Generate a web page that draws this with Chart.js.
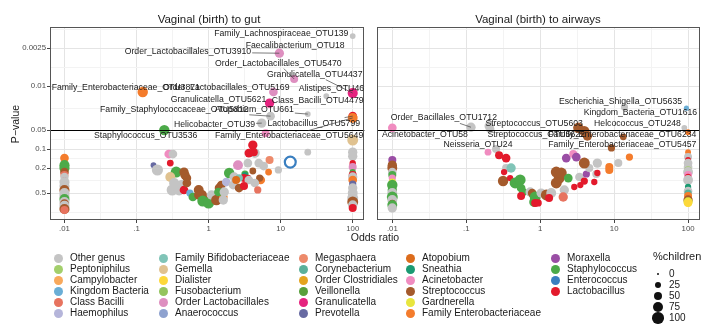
<!DOCTYPE html>
<html>
<head>
<meta charset="utf-8">
<script src="https://cdn.jsdelivr.net/npm/chart.js@4.4.0/dist/chart.umd.min.js"></script>
<style>
  body { margin: 0; background: #fff; font-family: "Liberation Sans", Arial, sans-serif; }
  #wrap { position: relative; width: 728px; height: 334px; overflow: hidden; }
  canvas { position: absolute; top: 0; }
  .txt { position: absolute; color: #1a1a1a; white-space: nowrap; line-height: 1; }
  .dot { position: absolute; border-radius: 50%; }
</style>
</head>
<body>
<div id="wrap">
  <canvas id="gut" width="372" height="240" style="left:0"></canvas>
  <canvas id="air" width="356" height="240" style="left:372px"></canvas>
  <div class="txt" style="left:209px;top:14px;font-size:11.5px;transform:translateX(-50%)">Vaginal (birth) to gut</div>
  <div class="txt" style="left:538px;top:14px;font-size:11.5px;transform:translateX(-50%)">Vaginal (birth) to airways</div>
  <div class="txt" style="left:15px;top:124px;font-size:10.5px;transform:translate(-50%,-50%) rotate(-90deg)">P−value</div>
  <div class="txt" style="left:375px;top:232px;font-size:10.5px;transform:translateX(-50%)">Odds ratio</div>
  <div id="legend"></div>
</div>
<script>
// Géneros (orden de la leyenda) y sus colores
const generos = [
  'Other genus', 'Peptoniphilus', 'Campylobacter', 'Kingdom Bacteria', 'Class Bacilli', 'Haemophilus',
  'Family Bifidobacteriaceae', 'Gemella', 'Dialister', 'Fusobacterium', 'Order Lactobacillales', 'Anaerococcus',
  'Megasphaera', 'Corynebacterium', 'Order Clostridiales', 'Veillonella', 'Granulicatella', 'Prevotella',
  'Atopobium', 'Sneathia', 'Acinetobacter', 'Streptococcus', 'Gardnerella', 'Family Enterobacteriaceae',
  'Moraxella', 'Staphylococcus', 'Enterococcus', 'Lactobacillus'
];
const coloresGenero = [
  '#c4c4c4', '#a3cf6b', '#f8a95c', '#6aaed6', '#e7735f', '#b5b5da',
  '#80c4b7', '#e0c290', '#fdd83a', '#94c45e', '#de8fc0', '#8ea2cf',
  '#ed8a6b', '#5bb09a', '#e4a41f', '#58a03b', '#e5237f', '#676aa2',
  '#dc6c1c', '#1a9a72', '#f08cc0', '#a45a2c', '#e8e63e', '#f47c2c',
  '#9a4ea5', '#4caa49', '#3a7fc0', '#e31a2c'
];

// Ejes
const xBreaks = [0.01, 0.1, 1, 10, 100];
const xBreakLabels = ['.01', '.1', '1', '10', '100'];
const xMinor = [0.0316, 0.316, 3.16, 31.6];
const yBreaks = [0.0025, 0.01, 0.05, 0.1, 0.2, 0.5];
const yBreakLabels = ['0.0025', '0.01', '0.05', '0.1', '0.2', '0.5'];
const yMinor = [0.00125, 0.005, 0.0224, 0.0707, 0.141, 0.316, 1.0];
const corteP = 0.05;
const tamanos = [0, 25, 50, 75, 100]; // %children

// Puntos: [genero, odds ratio, p-value, %children]
const gutRows = [
  ['Family Enterobacteriaceae', 0.01, 0.139, 50],
  ['Staphylococcus', 0.01, 0.18, 75],
  ['Staphylococcus', 0.01, 0.2, 75],
  ['Streptococcus', 0.01, 0.232, 50],
  ['Class Bacilli', 0.01, 0.259, 40],
  ['Other genus', 0.01, 0.278, 45],
  ['Lactobacillus', 0.01, 0.30, 5],
  ['Other genus', 0.01, 0.334, 75],
  ['Other genus', 0.01, 0.387, 75],
  ['Streptococcus', 0.01, 0.447, 75],
  ['Other genus', 0.01, 0.5, 75],
  ['Other genus', 0.01, 0.557, 75],
  ['Staphylococcus', 0.01, 0.621, 75],
  ['Other genus', 0.01, 0.693, 75],
  ['Streptococcus', 0.01, 0.746, 60],
  ['Other genus', 0.01, 0.80, 75],
  ['Streptococcus', 0.01, 0.896, 75],
  ['Class Bacilli', 0.01, 0.93, 40],
  ['Acinetobacter', 0.28, 0.12, 50],
  ['Other genus', 0.32, 0.12, 50],
  ['Prevotella', 0.172, 0.18, 15],
  ['Other genus', 0.195, 0.215, 95],
  ['Lactobacillus', 0.294, 0.167, 25],
  ['Staphylococcus', 0.355, 0.232, 90],
  ['Streptococcus', 0.456, 0.232, 60],
  ['Streptococcus', 0.47, 0.259, 60],
  ['Streptococcus', 0.50, 0.289, 50],
  ['Gemella', 0.294, 0.278, 70],
  ['Other genus', 0.333, 0.346, 75],
  ['Other genus', 0.428, 0.373, 80],
  ['Other genus', 0.313, 0.447, 95],
  ['Other genus', 0.39, 0.447, 90],
  ['Lactobacillus', 0.456, 0.447, 50],
  ['Streptococcus', 0.50, 0.346, 50],
  ['Kingdom Bacteria', 0.551, 0.5, 30],
  ['Staphylococcus', 0.605, 0.578, 50],
  ['Streptococcus', 0.73, 0.447, 70],
  ['Streptococcus', 0.73, 0.537, 60],
  ['Streptococcus', 0.803, 0.537, 80],
  ['Streptococcus', 0.855, 0.644, 70],
  ['Staphylococcus', 0.83, 0.669, 90],
  ['Staphylococcus', 1.0, 0.719, 95],
  ['Other genus', 1.1, 0.537, 60],
  ['Streptococcus', 1.286, 0.644, 85],
  ['Family Enterobacteriaceae', 1.60, 0.578, 50],
  ['Other genus', 1.60, 0.644, 60],
  ['Streptococcus', 1.41, 0.416, 60],
  ['Streptococcus', 1.50, 0.373, 50],
  ['Staphylococcus', 1.37, 0.481, 50],
  ['Other genus', 1.65, 0.481, 60],
  ['Haemophilus', 1.76, 0.334, 50],
  ['Staphylococcus', 1.93, 0.24, 80],
  ['Other genus', 2.26, 0.278, 60],
  ['Other genus', 2.19, 0.373, 50],
  ['Streptococcus', 2.65, 0.416, 50],
  ['Order Lactobacillales', 2.56, 0.18, 70],
  ['Other genus', 3.51, 0.167, 50],
  ['Other genus', 4.97, 0.167, 50],
  ['Megasphaera', 7.02, 0.149, 40],
  ['Other genus', 5.81, 0.186, 50],
  ['Other genus', 9.3, 0.215, 30],
  ['Streptococcus', 4.11, 0.223, 25],
  ['Family Enterobacteriaceae', 6.80, 0.232, 25],
  ['Staphylococcus', 3.2, 0.249, 30],
  ['Sneathia', 3.2, 0.259, 20],
  ['Lactobacillus', 3.1, 0.289, 40],
  ['Lactobacillus', 3.51, 0.289, 25],
  ['Family Bifidobacteriaceae', 2.65, 0.289, 35],
  ['Atopobium', 2.41, 0.31, 40],
  ['Other genus', 3.62, 0.31, 50],
  ['Family Enterobacteriaceae', 5.29, 0.31, 50],
  ['Streptococcus', 5.12, 0.289, 30],
  ['Lactobacillus', 3.1, 0.387, 40],
  ['Other genus', 4.38, 0.346, 50],
  ['Class Bacilli', 4.81, 0.447, 30],
  ['Other genus', 4.38, 0.116, 70],
  ['Lactobacillus', 3.62, 0.116, 50],
  ['Lactobacillus', 4.24, 0.112, 40],
  ['Lactobacillus', 4.11, 0.0864, 60],
  ['Other genus', 23.8, 0.112, 25],
  ['Enterococcus', 13.6, 0.161, 90],
  // OR = 100
  ['Gemella', 100, 0.072, 90],
  ['Other genus', 100, 0.112, 60],
  ['Other genus', 100, 0.13, 60],
  ['Lactobacillus', 100, 0.167, 20],
  ['Lactobacillus', 100, 0.18, 20],
  ['Order Lactobacillales', 100, 0.193, 40],
  ['Staphylococcus', 100, 0.232, 20],
  ['Lactobacillus', 100, 0.259, 40],
  ['Other genus', 100, 0.278, 60],
  ['Family Enterobacteriaceae', 100, 0.31, 50],
  ['Prevotella', 100, 0.359, 30],
  ['Other genus', 100, 0.416, 60],
  ['Other genus', 100, 0.5, 70],
  ['Other genus', 100, 0.599, 90],
  ['Streptococcus', 100, 0.693, 90],
  ['Other genus', 100, 0.774, 60],
  ['Lactobacillus', 100, 0.863, 40],
  // significativos
  ['Other genus', 100, 0.0016, 15],
  ['Order Lactobacillales', 9.6, 0.003, 60],
  ['Order Lactobacillales', 15.4, 0.0077, 40],
  ['Granulicatella', 100, 0.0129, 75],
  ['Order Lactobacillales', 7.94, 0.0124, 50],
  ['Other genus', 43, 0.0144, 15],
  ['Granulicatella', 7.02, 0.0186, 60],
  ['Other genus', 7.24, 0.03, 50],
  ['Other genus', 23.8, 0.0278, 15],
  ['Other genus', 5.46, 0.0387, 60],
  ['Lactobacillus', 100, 0.03, 50],
  ['Family Enterobacteriaceae', 100, 0.032, 70],
  ['Family Enterobacteriaceae', 0.122, 0.0124, 80],
  ['Staphylococcus', 0.243, 0.05, 80],
  ['Acinetobacter', 6.19, 0.056, 40]
];

const airRows = [
  ['Moraxella', 0.01, 0.149, 40],
  ['Streptococcus', 0.01, 0.18, 60],
  ['Streptococcus', 0.01, 0.2, 70],
  ['Other genus', 0.01, 0.232, 50],
  ['Staphylococcus', 0.01, 0.259, 40],
  ['Acinetobacter', 0.01, 0.289, 30],
  ['Gardnerella', 0.01, 0.334, 30],
  ['Staphylococcus', 0.01, 0.373, 80],
  ['Staphylococcus', 0.01, 0.447, 60],
  ['Other genus', 0.01, 0.5, 70],
  ['Staphylococcus', 0.01, 0.578, 90],
  ['Other genus', 0.01, 0.644, 70],
  ['Lactobacillus', 0.01, 0.719, 20],
  ['Staphylococcus', 0.01, 0.774, 70],
  ['Other genus', 0.01, 0.863, 60],
  ['Acinetobacter', 0.01, 0.046, 50],
  ['Other genus', 0.116, 0.045, 60],
  ['Other genus', 0.204, 0.043, 60],
  ['Other genus', 0.21, 0.048, 50],
  ['Acinetobacter', 0.197, 0.112, 25],
  ['Other genus', 0.253, 0.1, 40],
  ['Lactobacillus', 0.278, 0.125, 40],
  ['Lactobacillus', 0.346, 0.139, 50],
  ['Other genus', 0.346, 0.2, 40],
  ['Family Bifidobacteriaceae', 0.404, 0.2, 60],
  ['Lactobacillus', 0.325, 0.232, 20],
  ['Streptococcus', 0.315, 0.322, 80],
  ['Lactobacillus', 0.392, 0.289, 20],
  ['Staphylococcus', 0.458, 0.346, 90],
  ['Staphylococcus', 0.536, 0.31, 90],
  ['Staphylococcus', 0.552, 0.416, 50],
  ['Staphylococcus', 0.588, 0.481, 40],
  ['Lactobacillus', 0.552, 0.557, 40],
  ['Other genus', 0.732, 0.481, 60],
  ['Streptococcus', 0.779, 0.5, 50],
  ['Staphylococcus', 0.855, 0.578, 90],
  ['Staphylococcus', 0.829, 0.693, 70],
  ['Lactobacillus', 0.855, 0.719, 40],
  ['Lactobacillus', 0.939, 0.719, 30],
  ['Other genus', 1.03, 0.5, 60],
  ['Streptococcus', 1.21, 0.537, 90],
  ['Other genus', 1.41, 0.5, 70],
  ['Lactobacillus', 1.32, 0.599, 40],
  ['Streptococcus', 1.65, 0.346, 90],
  ['Streptococcus', 1.81, 0.289, 90],
  ['Streptococcus', 1.65, 0.232, 90],
  ['Streptococcus', 1.93, 0.24, 90],
  ['Staphylococcus', 2.40, 0.289, 50],
  ['Other genus', 2.12, 0.447, 60],
  ['Class Bacilli', 2.05, 0.578, 60],
  ['Lactobacillus', 2.89, 0.401, 20],
  ['Lactobacillus', 3.49, 0.373, 20],
  ['Other genus', 3.4, 0.278, 50],
  ['Lactobacillus', 3.95, 0.322, 30],
  ['Moraxella', 4.21, 0.249, 30],
  ['Other genus', 4.62, 0.2, 40],
  ['Lactobacillus', 5.39, 0.334, 20],
  ['Other genus', 5.74, 0.249, 40],
  ['Lactobacillus', 5.93, 0.24, 20],
  ['Moraxella', 2.25, 0.139, 50],
  ['Acinetobacter', 2.80, 0.12, 40],
  ['Moraxella', 3.08, 0.134, 50],
  ['Streptococcus', 3.95, 0.167, 90],
  ['Other genus', 5.93, 0.167, 60],
  ['Family Enterobacteriaceae', 8.6, 0.193, 40],
  ['Family Enterobacteriaceae', 8.6, 0.215, 40],
  ['Other genus', 11.4, 0.167, 40],
  ['Family Enterobacteriaceae', 16.1, 0.134, 30],
  ['Streptococcus', 9.2, 0.096, 30],
  ['Streptococcus', 3.28, 0.046, 80],
  ['Streptococcus', 3.95, 0.052, 80],
  ['Streptococcus', 4.35, 0.062, 60],
  ['Streptococcus', 13.3, 0.064, 25],
  ['Other genus', 13.8, 0.0215, 30],
  ['Kingdom Bacteria', 95, 0.0224, 10],
  ['Other genus', 89, 0.046, 15],
  // OR = 100
  ['Family Enterobacteriaceae', 100, 0.054, 15],
  ['Family Enterobacteriaceae', 100, 0.112, 15],
  ['Other genus', 100, 0.134, 40],
  ['Lactobacillus', 100, 0.149, 15],
  ['Other genus', 100, 0.167, 50],
  ['Other genus', 100, 0.193, 50],
  ['Peptoniphilus', 100, 0.215, 30],
  ['Other genus', 100, 0.232, 70],
  ['Acinetobacter', 100, 0.259, 40],
  ['Lactobacillus', 100, 0.278, 20],
  ['Other genus', 100, 0.31, 70],
  ['Sneathia', 100, 0.401, 20],
  ['Other genus', 100, 0.464, 50],
  ['Corynebacterium', 100, 0.5, 30],
  ['Family Enterobacteriaceae', 100, 0.557, 40],
  ['Streptococcus', 100, 0.644, 60],
  ['Gardnerella', 100, 0.693, 60],
  ['Dialister', 100, 0.719, 40]
];

// Etiquetas: [texto, OR texto, p texto, OR punto, p punto]
const gutNotes = [
  ['Family_Lachnospiraceae_OTU139', 10.2, 0.00144, 100, 0.0016],
  ['Faecalibacterium_OTU18', 15.9, 0.00223],
  ['Order_Lactobacillales_OTU3910', 0.517, 0.00288, 9.6, 0.003],
  ['Order_Lactobacillales_OTU5470', 9.3, 0.00431, 15.4, 0.0077],
  ['Granulicatella_OTU4437', 29.7, 0.00646, 100, 0.0129],
  ['Family_Enterobacteriaceae_OTU3871', 0.071, 0.0104, 0.122, 0.0124],
  ['Order_Lactobacillales_OTU5169', 1.76, 0.0104, 7.94, 0.0124],
  ['Alistipes_OTU46', 50.7, 0.0108, 43, 0.0144],
  ['Granulicatella_OTU5621', 1.37, 0.0161, 7.02, 0.0186],
  ['Class_Bacilli_OTU4479', 32.7, 0.0167],
  ['Family_Staphylococcaceae_OTU5812', 0.333, 0.024, 7.24, 0.03],
  ['Atopobium_OTU661', 4.3, 0.024, 23.8, 0.0278],
  ['Helicobacter_OTU39', 1.21, 0.0416, 5.46, 0.0387],
  ['Lactobacillus_OTU5799', 28.8, 0.0387, 100, 0.03],
  ['Staphylococcus_OTU3536', 0.134, 0.0622, 0.243, 0.05],
  ['Family_Enterobacteriaceae_OTU5649', 13.1, 0.0622, 100, 0.032]
];
const airNotes = [
  ['Escherichia_Shigella_OTU5635', 12.2, 0.0179, 13.8, 0.0215],
  ['Kingdom_Bacteria_OTU1616', 22.7, 0.0268, 95, 0.0224],
  ['Order_Bacillales_OTU1712', 0.0499, 0.032, 0.116, 0.045],
  ['Streptococcus_OTU5603', 0.829, 0.0401, 0.204, 0.043],
  ['Helcococcus_OTU248', 20.7, 0.0401, 89, 0.046],
  ['Acinetobacter_OTU58', 0.0276, 0.058, 0.01, 0.046],
  ['Streptococcus_OTU5622', 0.883, 0.06, 0.21, 0.048],
  ['Family_Enterobacteriaceae_OTU6234', 12.9, 0.06, 100, 0.054],
  ['Neisseria_OTU24', 0.144, 0.0864, 0.197, 0.112],
  ['Family_Enterobacteriaceae_OTU5457', 12.9, 0.0864, 9.2, 0.096]
];

const colorDe = g => coloresGenero[generos.indexOf(g)];
const radio = pct => 1.1 + 4.6 * Math.sqrt(pct / 100);

// Línea de corte, borde del panel y etiquetas
const panelPlugin = {
  id: 'notas',
  afterDatasetsDraw(chart, args, opts) {
    const { ctx, chartArea: a, scales: { x, y } } = chart;
    ctx.save();
    const yl = Math.round(y.getPixelForValue(corteP)) + 0.5;
    ctx.strokeStyle = '#000';
    ctx.lineWidth = 1;
    ctx.beginPath(); ctx.moveTo(a.left, yl); ctx.lineTo(a.right, yl); ctx.stroke();
    ctx.strokeStyle = '#555';
    ctx.strokeRect(Math.round(a.left) + 0.5, Math.round(a.top) + 0.5, Math.round(a.width) - 1, Math.round(a.height) - 1);

    ctx.font = '8.7px "Liberation Sans", Arial, sans-serif';
    ctx.textAlign = 'center';
    ctx.textBaseline = 'middle';
    opts.items.forEach(n => {
      const cx = x.getPixelForValue(n[1]), cy = y.getPixelForValue(n[2]);
      const w = ctx.measureText(n[0]).width, h = 9;
      if (n[3] !== undefined) {
        const px = x.getPixelForValue(n[3]), py = y.getPixelForValue(n[4]);
        const dx = px - cx, dy = py - cy;
        const t = Math.min(Math.abs((w / 2 + 1) / dx), Math.abs((h / 2 + 1) / dy));
        if (t < 1) {
          const sx = cx + dx * t, sy = cy + dy * t;
          if (Math.hypot(px - sx, py - sy) > 5) {
            ctx.strokeStyle = '#444';
            ctx.lineWidth = 0.7;
            ctx.beginPath(); ctx.moveTo(sx, sy); ctx.lineTo(px, py); ctx.stroke();
          }
        }
      }
      ctx.fillStyle = '#1a1a1a';
      ctx.fillText(n[0], cx, cy);
    });
    ctx.restore();
  }
};

function crearPanel(id, filas, notas, conEjeY) {
  const puntos = filas.map(d => ({ x: d[1], y: d[2], r: radio(d[3]) }));
  const relleno = filas.map(d => d[0] === 'Enterococcus' ? '#ffffff' : colorDe(d[0]));
  const borde = filas.map(d => colorDe(d[0]));
  const grosor = filas.map(d => d[0] === 'Enterococcus' ? 2.2 : 0);
  const xTicks = [...xBreaks, ...xMinor].sort((a, b) => a - b);
  const yTicks = [...yBreaks, ...yMinor].sort((a, b) => a - b);

  return new Chart(document.getElementById(id), {
    type: 'bubble',
    data: { datasets: [{ data: puntos, backgroundColor: relleno, borderColor: borde, borderWidth: grosor, hoverRadius: 0 }] },
    options: {
      responsive: false,
      animation: false,
      devicePixelRatio: 1,
      events: [],
      layout: { padding: conEjeY ? { left: 0, right: 3, top: 27, bottom: 0 } : { left: 5, right: 28, top: 27, bottom: 0 } },
      plugins: { legend: { display: false }, tooltip: { enabled: false }, notas: { items: notas } },
      scales: {
        x: {
          type: 'logarithmic', min: 0.0063, max: 145,
          afterBuildTicks: s => { s.ticks = xTicks.map(v => ({ value: v })); },
          afterFit: s => { s.height = 20; },
          border: { display: false },
          grid: {
            color: c => xBreaks.includes(c.tick.value) ? '#e4e4e4' : '#f3f3f3',
            tickColor: c => xBreaks.includes(c.tick.value) ? '#444' : 'rgba(0,0,0,0)',
            tickLength: 3
          },
          ticks: {
            autoSkip: false, maxRotation: 0, padding: 1, color: '#4d4d4d',
            font: { size: 7.8, family: '"Liberation Sans", Arial, sans-serif' },
            callback: v => { const i = xBreaks.indexOf(v); return i >= 0 ? xBreakLabels[i] : ''; }
          }
        },
        y: {
          type: 'logarithmic', reverse: true, min: 0.00115, max: 1.34,
          afterBuildTicks: s => { s.ticks = yTicks.map(v => ({ value: v })); },
          afterFit: s => { s.width = conEjeY ? 50 : 0; },
          border: { display: false },
          grid: {
            color: c => yBreaks.includes(c.tick.value) ? '#e4e4e4' : '#f3f3f3',
            tickColor: c => yBreaks.includes(c.tick.value) ? '#444' : 'rgba(0,0,0,0)',
            tickLength: 3,
            drawTicks: conEjeY
          },
          ticks: {
            display: conEjeY, autoSkip: false, padding: 1, color: '#4d4d4d',
            font: { size: 7.8, family: '"Liberation Sans", Arial, sans-serif' },
            callback: v => { const i = yBreaks.indexOf(v); return i >= 0 ? yBreakLabels[i] : ''; }
          }
        }
      }
    },
    plugins: [panelPlugin]
  });
}

crearPanel('gut', gutRows, gutNotes, true);
crearPanel('air', airRows, airNotes, false);

// Leyenda de colores (6 filas por columna) y de tamaños
const leyenda = document.getElementById('legend');
const colX = [58, 163, 303, 410, 555];
generos.forEach((g, i) => {
  const cx = colX[Math.floor(i / 6)], cy = 258 + (i % 6) * 11;
  const d = document.createElement('div');
  d.className = 'dot';
  d.style.cssText = `left:${cx - 4.5}px;top:${cy - 4.5}px;width:9px;height:9px;background:${coloresGenero[i]}`;
  leyenda.appendChild(d);
  const t = document.createElement('div');
  t.className = 'txt';
  t.style.cssText = `left:${cx + 12}px;top:${cy - 5.5}px;font-size:10px`;
  t.textContent = g;
  leyenda.appendChild(t);
});
const titulo = document.createElement('div');
titulo.className = 'txt';
titulo.style.cssText = 'left:653px;top:251px;font-size:11px';
titulo.textContent = '%children';
leyenda.appendChild(titulo);
tamanos.forEach((v, i) => {
  const cy = 274 + i * 11, r = radio(v);
  const d = document.createElement('div');
  d.className = 'dot';
  d.style.cssText = `left:${658 - r}px;top:${cy - r}px;width:${2 * r}px;height:${2 * r}px;background:#111`;
  leyenda.appendChild(d);
  const t = document.createElement('div');
  t.className = 'txt';
  t.style.cssText = `left:669px;top:${cy - 5.5}px;font-size:10px`;
  t.textContent = v;
  leyenda.appendChild(t);
});
</script>
</body>
</html>
